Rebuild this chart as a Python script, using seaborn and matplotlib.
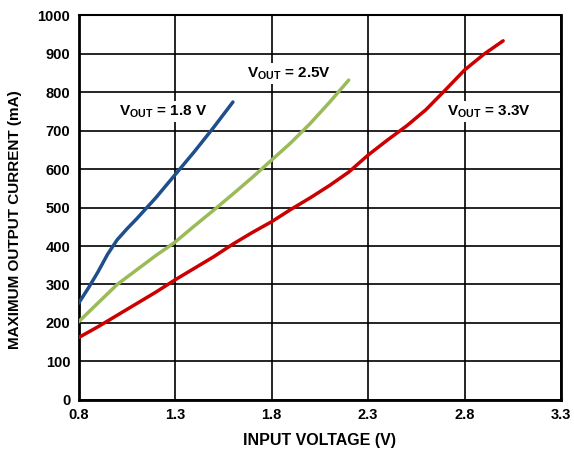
import matplotlib
matplotlib.use("Agg")
import matplotlib.pyplot as plt
import seaborn as sns
import pandas as pd

# Data
vin_18 = [0.8, 0.85, 0.9, 0.95, 1.0, 1.05, 1.1, 1.2, 1.3, 1.4, 1.5, 1.6]
iout_18 = [251, 290, 332, 378, 416, 444, 470, 525, 585, 645, 708, 774]

vin_25 = [0.8, 1.0, 1.2, 1.3, 1.4, 1.5, 1.6, 1.7, 1.8, 1.9, 2.0, 2.1, 2.2]
iout_25 = [203, 300, 375, 410, 452, 493, 535, 578, 623, 668, 718, 773, 831]

vin_33 = [0.8, 0.9, 1.0, 1.1, 1.2, 1.3, 1.4, 1.5, 1.6, 1.7, 1.8, 1.9, 2.0,
          2.1, 2.2, 2.3, 2.4, 2.5, 2.6, 2.7, 2.8, 2.9, 3.0]
iout_33 = [162, 190, 220, 250, 280, 312, 342, 372, 405, 435, 463, 495, 525,
           557, 592, 636, 675, 712, 754, 805, 857, 898, 933]

series_names = ["1.8", "2.5", "3.3"]
colors = ["#1F4E8C", "#9BBB59", "#CC0000"]

xticks = [0.8, 1.3, 1.8, 2.3, 2.8, 3.3]
yticks = list(range(0, 1001, 100))

frames = []
for name, xs, ys in zip(series_names, [vin_18, vin_25, vin_33], [iout_18, iout_25, iout_33]):
    frames.append(pd.DataFrame({"vin": xs, "iout": ys, "vout": name}))
df = pd.concat(frames, ignore_index=True)

sns.set_style("white")
plt.rcParams["font.family"] = ["Liberation Sans", "DejaVu Sans"]
plt.rcParams["text.color"] = "black"
plt.rcParams["axes.labelcolor"] = "black"
plt.rcParams["xtick.color"] = "black"
plt.rcParams["ytick.color"] = "black"
plt.rcParams["mathtext.fontset"] = "custom"
plt.rcParams["mathtext.rm"] = "Liberation Sans:bold"
plt.rcParams["mathtext.it"] = "Liberation Sans:bold"
plt.rcParams["mathtext.bf"] = "Liberation Sans:bold"

fig = plt.figure(figsize=(5.74, 4.55), dpi=100)
ax = fig.add_axes([0.1368, 0.1209, 0.9774 - 0.1368, 0.967 - 0.1209])

sns.lineplot(data=df, x="vin", y="iout", hue="vout", palette=colors,
             sort=False, estimator=None, linewidth=2.5, legend=False, ax=ax, zorder=3)

ax.set_xlim(0.8, 3.3)
ax.set_ylim(0, 1000)
ax.set_xticks(xticks)
ax.set_xticklabels([f"{t:.1f}" for t in xticks])
ax.set_yticks(yticks)
ax.grid(True, color="black", linewidth=1.2)
ax.set_axisbelow(True)
for s in ax.spines.values():
    s.set_color("black")
    s.set_linewidth(2.0)
ax.spines["top"].set_linewidth(1.5)
ax.tick_params(axis="both", length=0, labelsize=10.5, pad=6, colors="black")
for lbl in ax.get_xticklabels() + ax.get_yticklabels():
    lbl.set_fontweight("bold")

ax.set_xlabel("INPUT VOLTAGE (V)", fontsize=11.5, fontweight="bold", color="black")
ax.set_ylabel("MAXIMUM OUTPUT CURRENT (mA)", fontsize=11, fontweight="bold", color="black")
ax.xaxis.set_label_coords(0.5, ((455 - 440) / 455 - 0.1209) / (0.967 - 0.1209), transform=ax.transAxes)
ax.yaxis.set_label_coords((15 - 78.5) / (561 - 78.5), (400 - 220) / 385, transform=ax.transAxes)
ax.xaxis.label.set_va("center")
ax.yaxis.label.set_va("center")

bbox = dict(facecolor="white", edgecolor="none", pad=1.5)
ax.text(1.011, 740, r"V$_{\mathregular{OUT}}$ = 1.8 V", fontsize=11, fontweight="bold",
        va="baseline", ha="left", bbox=bbox, zorder=4, color="black")
ax.text(1.671, 838, r"V$_{\mathregular{OUT}}$ = 2.5V", fontsize=11, fontweight="bold",
        va="baseline", ha="left", bbox=bbox, zorder=4, color="black")
ax.text(2.708, 740, r"V$_{\mathregular{OUT}}$ = 3.3V", fontsize=11, fontweight="bold",
        va="baseline", ha="left", bbox=bbox, zorder=4, color="black")

fig.savefig("out.png", dpi=100)
